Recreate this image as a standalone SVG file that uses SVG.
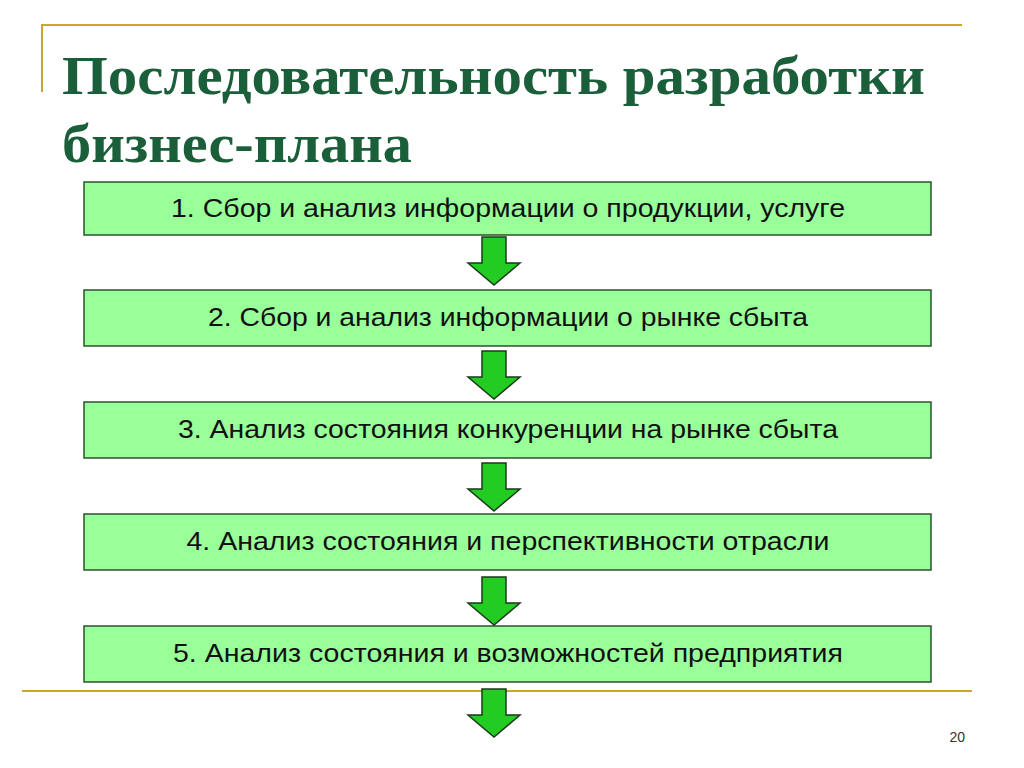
<svg xmlns="http://www.w3.org/2000/svg" width="1024" height="768" viewBox="0 0 1024 768">
<style>
.box{fill:#99ff99;stroke:#2f4f2f;stroke-width:1.5}
.t{font-family:"Liberation Sans",Arial,sans-serif;font-size:25px;fill:#111;text-anchor:middle}
.ttl{font-family:"Liberation Serif","Times New Roman",serif;font-weight:bold;font-size:54px;fill:#1b5e3a}
.arr{fill:#22cc22;stroke:#1a3a1a;stroke-width:1.5}
.deco{stroke:#c8a82a;stroke-width:2;fill:none}
</style>
<defs><path id="a" d="M-12,0 H12 V26 H26 L0,48 L-26,26 H-12 Z"/></defs>
<rect width="1024" height="768" fill="#fff"/>
<path class="deco" d="M962,25 H42 V92"/>
<path class="deco" d="M22,691 H972"/>
<text class="ttl" x="62" y="94" textLength="863" lengthAdjust="spacingAndGlyphs">Последовательность разработки</text>
<text class="ttl" x="62" y="162" textLength="350" lengthAdjust="spacingAndGlyphs">бизнес-плана</text>
<g id="n1"><rect class="box" x="84" y="182" width="847" height="53"/><text class="t" x="508" y="217" textLength="674" lengthAdjust="spacingAndGlyphs">1. Сбор и анализ информации о продукции, услуге</text></g>
<g id="n2"><rect class="box" x="84" y="290" width="847" height="56"/><text class="t" x="508" y="326" textLength="600" lengthAdjust="spacingAndGlyphs">2. Сбор и анализ информации о рынке сбыта</text></g>
<g id="n3"><rect class="box" x="84" y="402" width="847" height="56"/><text class="t" x="508" y="438" textLength="660" lengthAdjust="spacingAndGlyphs">3. Анализ состояния конкуренции на рынке сбыта</text></g>
<g id="n4"><rect class="box" x="84" y="514" width="847" height="56"/><text class="t" x="508" y="550" textLength="643" lengthAdjust="spacingAndGlyphs">4. Анализ состояния и перспективности отрасли</text></g>
<g id="n5"><rect class="box" x="84" y="626" width="847" height="56"/><text class="t" x="508" y="662" textLength="670" lengthAdjust="spacingAndGlyphs">5. Анализ состояния и возможностей предприятия</text></g>
<g id="connectors">
<use href="#a" class="arr" x="494" y="237"/>
<use href="#a" class="arr" x="494" y="351"/>
<use href="#a" class="arr" x="494" y="463"/>
<use href="#a" class="arr" x="494" y="577"/>
<use href="#a" class="arr" x="494" y="689"/>
</g>
<text x="965" y="742" style="font-family:'Liberation Sans',Arial,sans-serif;font-size:14px;fill:#333" text-anchor="end">20</text>
</svg>
